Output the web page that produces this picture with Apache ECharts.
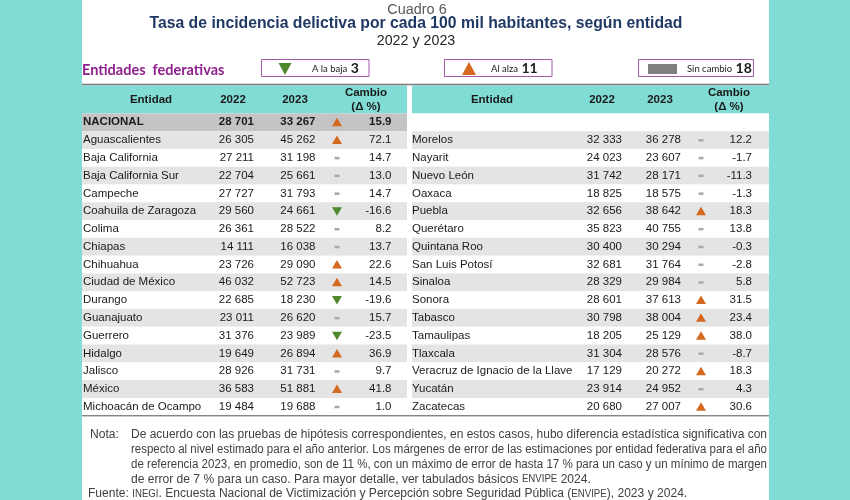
<!DOCTYPE html>
<html><head><meta charset="utf-8">
<script src="https://cdn.jsdelivr.net/npm/echarts@6/dist/echarts.min.js"></script>
<style>html,body{margin:0;padding:0;background:#82dcd6}#c{width:850px;height:500px}</style>
</head><body><div id="c"></div>
<script>
// ---------- DATA ----------
const entidadesIzq = ['NACIONAL','Aguascalientes','Baja California','Baja California Sur','Campeche','Coahuila de Zaragoza','Colima','Chiapas','Chihuahua','Ciudad de México','Durango','Guanajuato','Guerrero','Hidalgo','Jalisco','México','Michoacán de Ocampo'];
const tasa2022Izq = [28701,26305,27211,22704,27727,29560,26361,14111,23726,46032,22685,23011,31376,19649,28926,36583,19484];
const tasa2023Izq = [33267,45262,31198,25661,31793,24661,28522,16038,29090,52723,18230,26620,23989,26894,31731,51881,19688];
const cambioIzq = [15.9,72.1,14.7,13.0,14.7,-16.6,8.2,13.7,22.6,14.5,-19.6,15.7,-23.5,36.9,9.7,41.8,1.0];
const tendenciaIzq = ['alza','alza','sin','sin','sin','baja','sin','sin','alza','alza','baja','sin','baja','alza','sin','alza','sin'];

const entidadesDer = ['','Morelos','Nayarit','Nuevo León','Oaxaca','Puebla','Querétaro','Quintana Roo','San Luis Potosí','Sinaloa','Sonora','Tabasco','Tamaulipas','Tlaxcala','Veracruz de Ignacio de la Llave','Yucatán','Zacatecas'];
const tasa2022Der = [null,32333,24023,31742,18825,32656,35823,30400,32681,28329,28601,30798,18205,31304,17129,23914,20680];
const tasa2023Der = [null,36278,23607,28171,18575,38642,40755,30294,31764,29984,37613,38004,25129,28576,20272,24952,27007];
const cambioDer = [null,12.2,-1.7,-11.3,-1.3,18.3,13.8,-0.3,-2.8,5.8,31.5,23.4,38.0,-8.7,18.3,4.3,30.6];
const tendenciaDer = [null,'sin','sin','sin','sin','alza','sin','sin','sin','sin','alza','alza','alza','sin','alza','sin','alza'];

const encabezados = ['Entidad','2022','2023','Cambio','(Δ %)'];
// ---------- END DATA ----------

const TEAL = '#82dcd6';
const UP = '#d4691f', DOWN = '#4e8a2c', DASH = '#a9a9a9';
const TXT = '#1a1a1a';
const FONT = "'Liberation Sans', Arial, sans-serif";
const NARROW = "'Liberation Sans', Arial, sans-serif";
const NOTE_SX = 0.965;

function fmt(v){ if (v == null) return ''; const s = String(v); return s.length > 3 ? s.slice(0, s.length-3) + ' ' + s.slice(-3) : s; }
function fmtC(v){ return v == null ? '' : v.toFixed(1); }

const todasTend = tendenciaIzq.slice(1).concat(tendenciaDer.slice(1));
const nBaja = todasTend.filter(t => t === 'baja').length;
const nAlza = todasTend.filter(t => t === 'alza').length;
const nSin = todasTend.filter(t => t === 'sin').length;

const colsL = {name:1, a:172, b:233.5, m:255, c:309.5, grayFirst:true};
const colsR = {name:0, a:210, b:269, m:289, c:340, grayFirst:false};

function makeRender(names, v1, v2, ch, tr, cols){
  return function(params, api){
    const i = params.dataIndex;
    const cs = params.coordSys;
    const p = api.coord([0, i]);
    const h = api.size([0, 1])[1];
    const y = p[1];
    const X = off => api.coord([off, i])[0];
    let fill = '#ffffff';
    if (i === 0) fill = cols.grayFirst ? '#c4c4c4' : '#ffffff';
    else if (i % 2 === 1) fill = '#e4e4e4';
    const bold = (i === 0);
    const font = (bold ? 'bold ' : '') + '11.5px ' + FONT;
    const children = [
      {type:'rect', shape:{x:cs.x, y:y-h/2, width:cs.width, height:h}, style:{fill:fill}},
      {type:'text', style:{text:names[i], x:X(cols.name), y:y, textAlign:'left', textVerticalAlign:'middle', font:font, fill:TXT}},
      {type:'text', style:{text:fmt(v1[i]), x:X(cols.a), y:y, textAlign:'right', textVerticalAlign:'middle', font:font, fill:TXT}},
      {type:'text', style:{text:fmt(v2[i]), x:X(cols.b), y:y, textAlign:'right', textVerticalAlign:'middle', font:font, fill:TXT}},
      {type:'text', style:{text:fmtC(ch[i]), x:X(cols.c), y:y, textAlign:'right', textVerticalAlign:'middle', font:font, fill:TXT}}
    ];
    const mx = X(cols.m);
    if (tr[i] === 'alza') children.push({type:'polygon', shape:{points:[[mx-5,y+4],[mx+5,y+4],[mx,y-4.5]]}, style:{fill:UP}});
    else if (tr[i] === 'baja') children.push({type:'polygon', shape:{points:[[mx-5,y-4],[mx+5,y-4],[mx,y+4.5]]}, style:{fill:DOWN}});
    else if (tr[i] === 'sin') children.push({type:'rect', shape:{x:mx-2.5, y:y-1, width:5, height:2.5}, style:{fill:DASH}});
    return {type:'group', children:children};
  };
}

const cv = document.createElement('canvas').getContext('2d');
function w(text, font){ cv.font = font; return cv.measureText(text).width; }

const NOTE_FONT = "12.5px " + NARROW;
const noteLines = [
  'De acuerdo con las pruebas de hipótesis correspondientes, en estos casos, hubo diferencia estadística significativa con',
  'respecto al nivel estimado para el año anterior. Los márgenes de error de las estimaciones por entidad federativa para el año',
  'de referencia 2023, en promedio, son de 11 %, con un máximo de error de hasta 17 % para un caso y un mínimo de margen'
];
const noteY = [435, 449.8, 464.6];
const noteX = 131, noteRight = 767;

const TITLE = 'Tasa de incidencia delictiva por cada 100 mil habitantes, según entidad';
const TITLE_FONT = "bold 17px " + NARROW;
const titleScale = 533 / w(TITLE, TITLE_FONT);

const graphics = [
  {type:'rect', shape:{x:82, y:0, width:687, height:500}, style:{fill:'#ffffff'}, z:-10},
  {type:'text', x:417, y:9.5, scaleX:0.93, style:{text:'Cuadro 6', font:"15.5px " + NARROW, fill:'#595959', textAlign:'center', textVerticalAlign:'middle'}},
  {type:'text', x:416, y:23.5, scaleX:titleScale, style:{text:TITLE, font:TITLE_FONT, fill:'#1f3864', textAlign:'center', textVerticalAlign:'middle'}},
  {type:'text', x:416, y:41, scaleX:0.92, style:{text:'2022 y 2023', font:"15.5px " + NARROW, fill:'#262626', textAlign:'center', textVerticalAlign:'middle'}},
  {type:'text', x:82, y:70, style:{text:'Entidades  federativas', font:"bold 14.5px Lato, sans-serif", fill:'#8e1f8c', textAlign:'left', textVerticalAlign:'middle'}},
  {type:'rect', shape:{x:261.5, y:59.5, width:107.5, height:17}, style:{fill:'#fff', stroke:'#a05aa8', lineWidth:1}},
  {type:'polygon', shape:{points:[[278.5,63],[291.5,63],[285,75]]}, style:{fill:DOWN}},
  {type:'text', x:312, y:68.5, style:{text:'{a|A la baja} {b|' + nBaja + '}', rich:{a:{font:"9.5px Lato, sans-serif", fill:TXT}, b:{font:"bold 14px Lato, sans-serif", fill:TXT}}, textAlign:'left', textVerticalAlign:'middle'}},
  {type:'rect', shape:{x:444.5, y:59.5, width:107.5, height:17}, style:{fill:'#fff', stroke:'#a05aa8', lineWidth:1}},
  {type:'polygon', shape:{points:[[462,75],[476,75],[469,62]]}, style:{fill:UP}},
  {type:'text', x:491, y:68.5, style:{text:'{a|Al alza} {b|' + nAlza + '}', rich:{a:{font:"9.5px Lato, sans-serif", fill:TXT}, b:{font:"bold 14px Lato, sans-serif", fill:TXT}}, textAlign:'left', textVerticalAlign:'middle'}},
  {type:'rect', shape:{x:638.5, y:59.5, width:115, height:17}, style:{fill:'#fff', stroke:'#a05aa8', lineWidth:1}},
  {type:'rect', shape:{x:648, y:64, width:29, height:10}, style:{fill:'#7f7f7f'}},
  {type:'text', x:687, y:68.5, style:{text:'{a|Sin cambio} {b|' + nSin + '}', rich:{a:{font:"9.5px Lato, sans-serif", fill:TXT}, b:{font:"bold 14px Lato, sans-serif", fill:TXT}}, textAlign:'left', textVerticalAlign:'middle'}},
  {type:'rect', shape:{x:82, y:85.5, width:325, height:28}, style:{fill:TEAL}},
  {type:'rect', shape:{x:412, y:85.5, width:357, height:28}, style:{fill:TEAL}},
  {type:'line', shape:{x1:82, y1:84.5, x2:769, y2:84.5}, style:{stroke:'#7a7a7a', lineWidth:1.6}},
  {type:'line', shape:{x1:82, y1:415.8, x2:769, y2:415.8}, style:{stroke:'#555555', lineWidth:1}, z:10}
];
const HF = "bold 11.5px " + FONT;
function head(x, y, t){ return {type:'text', x:x, y:y, style:{text:t, font:HF, fill:TXT, textAlign:'center', textVerticalAlign:'middle'}}; }
[[151,233,295,366],[492,602,660,729]].forEach(c => {
  graphics.push(head(c[0], 99.5, encabezados[0]), head(c[1], 99.5, encabezados[1]), head(c[2], 99.5, encabezados[2]), head(c[3], 93, encabezados[3]), head(c[3], 106.5, encabezados[4]));
});
graphics.push({type:'text', x:90, y:435, scaleX:NOTE_SX, style:{text:'Nota:', font:NOTE_FONT, fill:'#404040', textVerticalAlign:'middle'}});
noteLines.forEach((t, k) => {
  const s = (noteRight - noteX) / w(t, NOTE_FONT);
  graphics.push({type:'text', x:noteX, y:noteY[k], scaleX:s, style:{text:t, font:NOTE_FONT, fill:'#404040', textVerticalAlign:'middle'}});
});
const smallC = {font:"10px " + NARROW, fill:'#404040'};
graphics.push({type:'text', x:noteX, y:479.4, scaleX:NOTE_SX, style:{text:'{n|de error de 7 % para un caso. Para mayor detalle, ver tabulados básicos }{s|ENVIPE}{n| 2024.}', rich:{n:{font:NOTE_FONT, fill:'#404040'}, s:smallC}, textVerticalAlign:'middle'}});
graphics.push({type:'text', x:88, y:494, scaleX:NOTE_SX, style:{text:'{n|Fuente: }{s|INEGI}{n|. Encuesta Nacional de Victimización y Percepción sobre Seguridad Pública (}{s|ENVIPE}{n|), 2023 y 2024.}', rich:{n:{font:NOTE_FONT, fill:'#404040'}, s:smallC}, textVerticalAlign:'middle'}});

const chart = echarts.init(document.getElementById('c'), null, {renderer:'canvas'});
const gridTop = 113.4, gridH = 17.78 * 17;
chart.setOption({
  backgroundColor: TEAL,
  animation: false,
  grid: [
    {left:82, top:gridTop, width:325, height:gridH},
    {left:412, top:gridTop, width:357, height:gridH}
  ],
  xAxis: [
    {gridIndex:0, type:'value', min:0, max:325, show:false},
    {gridIndex:1, type:'value', min:0, max:357, show:false}
  ],
  yAxis: [
    {gridIndex:0, type:'category', data:entidadesIzq, inverse:true, show:false},
    {gridIndex:1, type:'category', data:entidadesDer.map((d,i)=> d || ' '), inverse:true, show:false}
  ],
  series: [
    {type:'custom', xAxisIndex:0, yAxisIndex:0, data:entidadesIzq.map((d,i)=>[0,i]), encode:{x:0, y:1},
     renderItem: makeRender(entidadesIzq, tasa2022Izq, tasa2023Izq, cambioIzq, tendenciaIzq, colsL)},
    {type:'custom', xAxisIndex:1, yAxisIndex:1, data:entidadesDer.map((d,i)=>[0,i]), encode:{x:0, y:1},
     renderItem: makeRender(entidadesDer, tasa2022Der, tasa2023Der, cambioDer, tendenciaDer, colsR)}
  ],
  graphic: {elements: graphics}
});
</script></body></html>
